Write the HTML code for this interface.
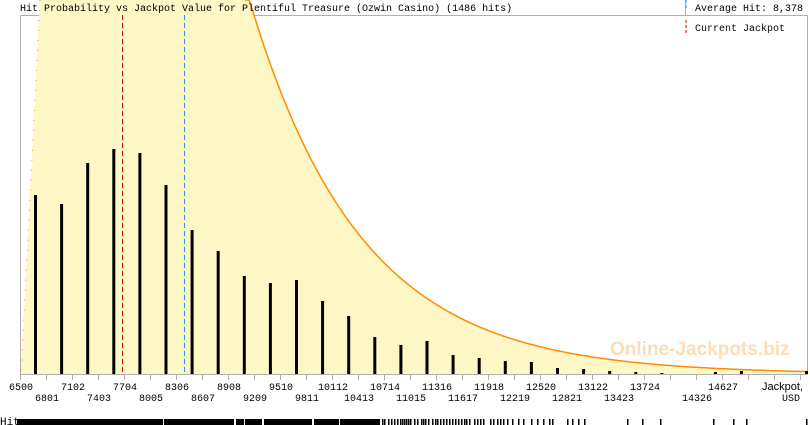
<!DOCTYPE html>
<html><head><meta charset="utf-8"><style>
body{margin:0;background:#fff;}
svg{display:block;font-family:"Liberation Mono",monospace;font-size:10px;}
</style></head><body>
<svg width="810" height="425" viewBox="0 0 810 425" xmlns="http://www.w3.org/2000/svg">
<rect x="20.5" y="15.5" width="787" height="359" fill="none" stroke="#b0b0b0"/>
<line x1="685.5" y1="0" x2="685.5" y2="15" stroke="#b0b0b0"/>
<path id="fill" d="" fill="#fdf7c6"/>
<polyline id="curve" fill="none" stroke="#ff8c00" stroke-width="1.5" points=""/>
<line x1="40" y1="0" x2="21" y2="374" stroke="#ff8c00" stroke-width="1" stroke-dasharray="1,9"/>
<line x1="122.5" y1="15" x2="122.5" y2="374" stroke="#e00000" stroke-dasharray="5,3"/>
<line x1="184.5" y1="15" x2="184.5" y2="374" stroke="#2299ee" stroke-dasharray="5,3"/>
<g id="bars" fill="#000"></g>
<text x="610" y="355" font-family="Liberation Sans,sans-serif" font-weight="bold" font-size="19" fill="#fddcb8">Online-Jackpots.biz</text>
<line x1="20" y1="374.5" x2="808" y2="374.5" stroke="#b0b0b0"/>
<g id="ticks" stroke="#b0b0b0"></g>
<g id="labels" fill="#000" text-anchor="middle"></g>
<text x="762" y="390" font-family="Liberation Sans,sans-serif" font-size="11">Jackpot,</text>
<text x="791" y="401" text-anchor="middle">USD</text>
<text x="20" y="11">Hit Probability vs Jackpot Value for Plentiful Treasure (Ozwin Casino) (1486 hits)</text>
<line x1="686" y1="0" x2="686" y2="10" stroke="#2299ee" stroke-dasharray="3,2"/>
<text x="695" y="11">Average Hit: 8,378</text>
<line x1="686" y1="20" x2="686" y2="33" stroke="#e00000" stroke-dasharray="3,2"/>
<text x="695" y="31">Current Jackpot</text>
<text x="0" y="425" font-size="11">Hits</text>
<g id="hits" fill="#000"></g>
</svg>
<script>
var ns="http://www.w3.org/2000/svg";
function el(t,a,p){var e=document.createElementNS(ns,t);for(var k in a)e.setAttribute(k,a[k]);document.getElementById(p).appendChild(e);return e;}
var pts=[],d="M40,0 ";
for(var x=245;x<=808;x+=2){var y=374-44*Math.exp(-(x-487)/111);if(y<0)y=0;pts.push(x+","+y.toFixed(1));}
d+="L245,0 ";pts.forEach(function(p){d+="L"+p+" ";});d+="L808,374 L21,374 Z";
document.getElementById("fill").setAttribute("d",d);
document.getElementById("curve").setAttribute("points",pts.join(" "));
var tops=[195,204,163,149,153,185,230,251,276,283,280,301,316,337,345,341,355,358,361,362,368,369,371,372,373];
for(var i=0;i<tops.length;i++){var bx=34+i*26.1;el("rect",{x:bx,y:tops[i],width:3,height:374-tops[i]},"bars");}
el("rect",{x:714,y:372,width:3,height:2},"bars");el("rect",{x:740,y:371,width:3,height:3},"bars");
el("rect",{x:805,y:371,width:3,height:3},"bars");
for(var t=0;t<=30;t++){var tx=20.5+t*26;if(tx>808)break;el("line",{x1:tx,y1:375,x2:tx,y2:380},"ticks");}
var topL=[6500,7102,7704,8306,8908,9510,10112,10714,11316,11918,12520,13122,13724,14627];
var botL=[6801,7403,8005,8607,9209,9811,10413,11015,11617,12219,12821,13423,14326];
function px(v){return 20+(v-6500)*26/301;}
topL.forEach(function(v){el("text",{x:px(v)+1,y:390},"labels").textContent=v;});
botL.forEach(function(v){el("text",{x:px(v)+1,y:401},"labels").textContent=v;});
el("rect",{x:17,y:419,width:146,height:6},"hits");el("rect",{x:164,y:419,width:70,height:6},"hits");
el("rect",{x:236,y:419,width:8,height:6},"hits");el("rect",{x:245,y:419,width:17,height:6},"hits");
el("rect",{x:264,y:419,width:48,height:6},"hits");el("rect",{x:314,y:419,width:25,height:6},"hits");
el("rect",{x:340,y:419,width:40,height:6},"hits");
var hx=[382,384,388,391,394,397,400,402,404,406,408,410,414,417,421,423,425,428,432,435,437,440,443,446,449,452,455,458,461,464,466,469,474,477,480,483,490,493,497,500,503,507,512,518,523,531,537,543,549,552,567,572,578,584,627,642,660,713,733,746,806];
hx.forEach(function(x){el("rect",{x:x,y:419,width:1.5,height:6},"hits");});
</script>
</body></html>
